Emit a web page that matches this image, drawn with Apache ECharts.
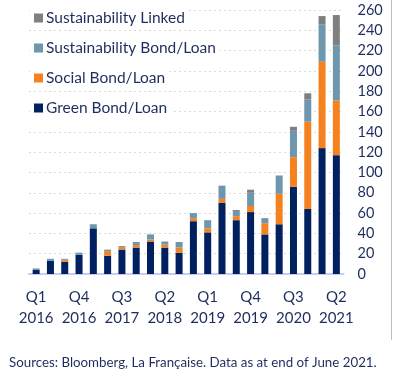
<!DOCTYPE html>
<html lang="en">
<head>
    <meta charset="UTF-8">
    <script type="text/javascript" src="https://cdn.jsdelivr.net/npm/echarts@6/dist/echarts.min.js"></script>
    <title>Sustainable debt issuance</title>
    <style>
        html, body { margin: 0; padding: 0; background: #fff; }
    </style>
</head>
<body>
<div id="main" style="width: 395px;height:375px;"></div>
<script type="text/javascript">
    // quarters Q1 2016 .. Q2 2021
    var quarters = ['Q1\n2016', 'Q2\n2016', 'Q3\n2016', 'Q4\n2016',
        'Q1\n2017', 'Q2\n2017', 'Q3\n2017', 'Q4\n2017',
        'Q1\n2018', 'Q2\n2018', 'Q3\n2018', 'Q4\n2018',
        'Q1\n2019', 'Q2\n2019', 'Q3\n2019', 'Q4\n2019',
        'Q1\n2020', 'Q2\n2020', 'Q3\n2020', 'Q4\n2020',
        'Q1\n2021', 'Q2\n2021'];
    var green_arr = [4, 13, 12, 19, 45, 18, 24, 26, 32, 26, 21, 52, 41, 70, 53, 61, 39, 49, 86, 64, 124, 117];
    var social_arr = [0, 0, 2, 0, 0, 4.5, 2.5, 2.5, 2, 3, 5, 3, 4, 4, 4, 6, 11, 30, 29, 86, 85, 54];
    var sustain_arr = [1.5, 2, 1, 2, 4, 1.5, 1, 3, 5, 3, 5.5, 5, 8, 13, 5, 13, 5, 18, 26, 22, 37, 54];
    var linked_arr = [0, 0, 0, 0, 0, 0, 0, 0, 0, 0, 0, 0, 0, 0, 1, 3, 0, 0, 4, 6, 8, 30];
    var y_ticks = [0, 260, 20]; // min, max, step

    var textColor = '#1F2D5E';
    var font = 'Lato';

    function draw() {
        var myChart = echarts.init(document.getElementById('main'));

        // one legend per row so each can hide the gridlines behind it
        var names = ['Sustainability Linked', 'Sustainability Bond/Loan', 'Social Bond/Loan', 'Green Bond/Loan'];
        var legends = names.map(function (n, i) {
            return {
                data: [{name: n, icon: 'rect'}],
                left: 30,
                top: 8 + i * 30,
                orient: 'vertical',
                itemWidth: 9,
                itemHeight: 9,
                itemGap: 0,
                padding: [2, 4, 2, 4],
                backgroundColor: '#fff',
                selectedMode: false,
                textStyle: {color: textColor, fontSize: 15.5, fontFamily: font, padding: [0, 0, 0, -2]}
            };
        });

        var option = {
            animation: false,
            color: ['#7F7F7F', '#6E97AD', '#F5821F', '#002060'],
            title: {
                text: 'Sources: Bloomberg, La Française. Data as at end of June 2021.',
                left: 4,
                top: 351,
                textStyle: {color: textColor, fontSize: 13.3, fontWeight: 'normal', fontFamily: font}
            },
            legend: legends,
            grid: {
                left: 29,
                right: 51.5,
                top: 10,
                bottom: 101
            },
            xAxis: [
                {
                    type: 'category',
                    data: quarters,
                    axisTick: {show: false},
                    axisLine: {lineStyle: {color: '#C9CCEE', width: 2}},
                    axisLabel: {
                        interval: 2,
                        color: textColor,
                        fontSize: 15,
                        fontFamily: font,
                        lineHeight: 21,
                        margin: 13
                    }
                }
            ],
            yAxis: [
                {
                    type: 'value',
                    position: 'right',
                    min: y_ticks[0],
                    max: y_ticks[1],
                    interval: y_ticks[2],
                    axisLine: {show: false},
                    axisTick: {show: false},
                    splitLine: {lineStyle: {color: '#D9D9D9', type: [2, 3]}},
                    axisLabel: {color: textColor, fontSize: 14.5, fontFamily: font, margin: 14}
                }
            ],
            series: [
                {name: 'Green Bond/Loan', type: 'bar', stack: 'total', barWidth: 7, data: green_arr, itemStyle: {color: '#002060'}},
                {name: 'Social Bond/Loan', type: 'bar', stack: 'total', barWidth: 7, data: social_arr, itemStyle: {color: '#F5821F'}},
                {name: 'Sustainability Bond/Loan', type: 'bar', stack: 'total', barWidth: 7, data: sustain_arr, itemStyle: {color: '#6E97AD'}},
                {name: 'Sustainability Linked', type: 'bar', stack: 'total', barWidth: 7, data: linked_arr, itemStyle: {color: '#7F7F7F'}}
            ],
            graphic: [
                {
                    type: 'line',
                    shape: {x1: 391.5, y1: 0, x2: 391.5, y2: 340},
                    style: {stroke: '#BFBFBF', lineWidth: 1}
                }
            ]
        };
        myChart.setOption(option);
    }
    draw();
</script>
</body>
</html>
